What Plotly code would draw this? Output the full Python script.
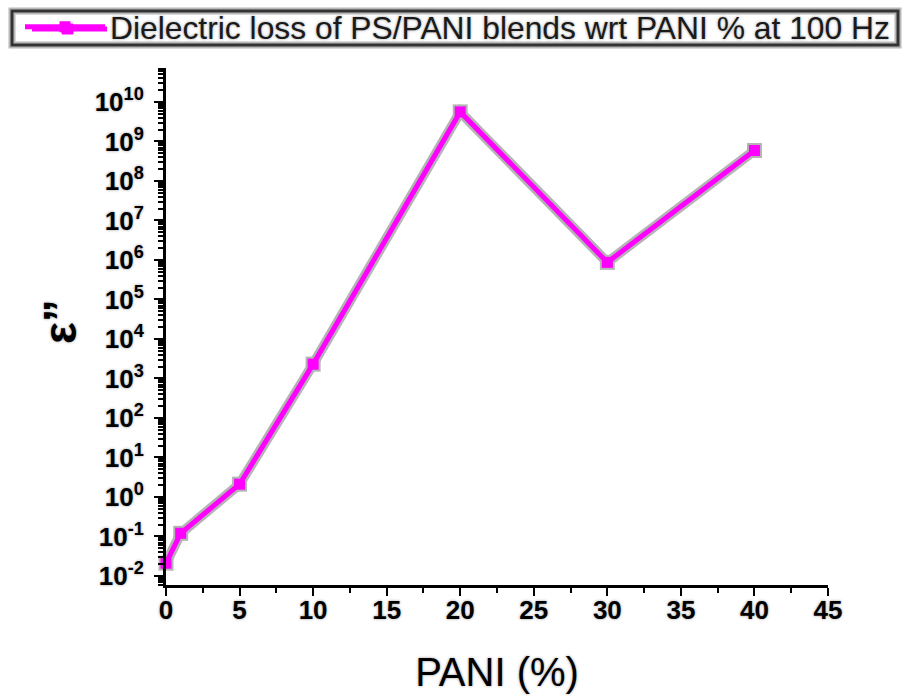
import plotly.graph_objects as go

pani = [0, 1, 5, 10, 20, 30, 40]
eps2 = [0.021, 0.12, 2.1, 2300, 5.6e9, 8.7e5, 5.9e8]
series_name = "Dielectric loss of PS/PANI blends wrt PANI % at 100 Hz"
x_ticks = [0, 5, 10, 15, 20, 25, 30, 35, 40, 45]
y_exps = list(range(-2, 11))

MAG = "#ff00ff"
HALO = "#b4b4b4"
SHADOW = "0px 0px 3px #9a9a9a"

W, H = 903, 700
ML, MR, MT, MB = 166, 75, 68, 115
PW, PH = W - ML - MR, H - MT - MB


def px(xp):
    return (xp - ML) / PW


def py(yp):
    return (H - MB - yp) / PH


fig = go.Figure()
fig.add_trace(go.Scatter(
    x=pani, y=eps2, mode="lines+markers", showlegend=False, hoverinfo="skip",
    line=dict(color=HALO, width=10),
    marker=dict(symbol="square", size=15, color=HALO),
    cliponaxis=False,
))
fig.add_trace(go.Scatter(
    x=pani, y=eps2, mode="lines+markers", name=series_name,
    line=dict(color=MAG, width=5),
    marker=dict(symbol="square", size=11, color=MAG),
    cliponaxis=False,
))

# legend frame and long legend key (decoration around the plotly legend)
shapes = [
    dict(type="rect", xref="paper", yref="paper", x0=px(12), x1=px(898), y0=py(11), y1=py(45),
         line=dict(color="#b8b8b8", width=7), fillcolor="white", layer="below"),
    dict(type="rect", xref="paper", yref="paper", x0=px(12), x1=px(898), y0=py(11), y1=py(45),
         line=dict(color="#333333", width=3), fillcolor="rgba(0,0,0,0)", layer="above"),
    dict(type="line", xref="paper", yref="paper", x0=px(32), x1=px(107), y0=py(29), y1=py(29),
         line=dict(color=MAG, width=5), layer="above"),
    dict(type="rect", xref="paper", yref="paper", x0=px(62), x1=px(73), y0=py(24), y1=py(34),
         line=dict(color=MAG, width=1), fillcolor=MAG, layer="above"),
]

fig.update_layout(
    width=W, height=H,
    margin=dict(l=ML, r=MR, t=MT, b=MB, autoexpand=False),
    paper_bgcolor="white", plot_bgcolor="white",
    font=dict(family="Liberation Sans, Arial, sans-serif", color="black"),
    showlegend=True,
    legend=dict(
        x=px(20), y=py(27),
        xanchor="left", yanchor="middle",
        borderwidth=0, bgcolor="rgba(0,0,0,0)",
        font=dict(size=31.8, color="#1a1a1a", shadow=SHADOW),
        itemwidth=80, tracegroupgap=0,
    ),
    xaxis=dict(
        range=[0, 45], tickvals=x_ticks, ticktext=[str(v) for v in x_ticks],
        showline=True, linecolor="black", linewidth=3, mirror=False,
        ticks="outside", ticklen=8, tickwidth=2, tickcolor="black",
        minor=dict(ticks="outside", ticklen=5, tickwidth=2, dtick=2.5, tick0=0, tickcolor="black"),
        tickfont=dict(size=26, weight="bold", shadow=SHADOW),
        ticklabelstandoff=-8,
        showgrid=False, zeroline=False,
        title=dict(text="PANI (%)", font=dict(size=40, shadow=SHADOW), standoff=34),
    ),
    yaxis=dict(
        type="log", range=[-2.23, 10.86],
        tickvals=[10 ** e for e in y_exps],
        ticktext=["10<sup>%d</sup>" % e for e in y_exps],
        showline=True, linecolor="black", linewidth=3,
        ticks="outside", ticklen=9, tickwidth=2, tickcolor="black",
        minor=dict(ticks="outside", ticklen=5, tickwidth=1.5, dtick="D1", tickcolor="black"),
        tickfont=dict(size=26, weight="bold", shadow=SHADOW),
        ticklabelstandoff=5,
        showgrid=False, zeroline=False,
    ),
    shapes=shapes,
    annotations=[dict(
        text="<b>ε”</b>", xref="paper", yref="paper",
        x=px(60), y=py(322), xanchor="center", yanchor="middle",
        textangle=-90, showarrow=False, font=dict(size=46, color="black", shadow=SHADOW),
    )],
)

fig.write_html("out.html")
